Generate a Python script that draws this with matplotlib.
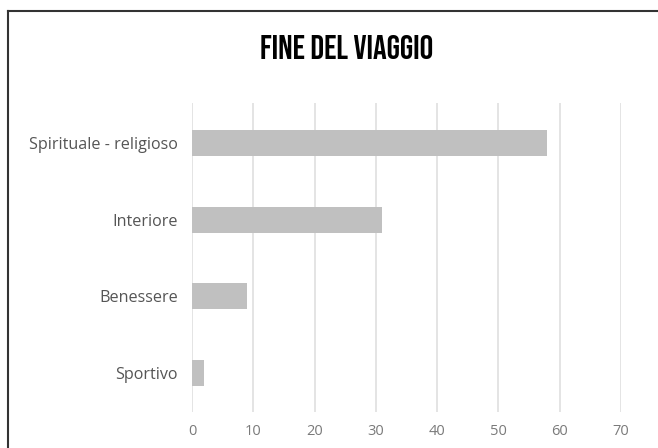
import matplotlib
matplotlib.use("Agg")
import matplotlib.pyplot as plt
from matplotlib.lines import Line2D

categories = ["Sportivo", "Benessere", "Interiore", "Spirituale - religioso"]
values = [2, 9, 31, 58]
xticks = [0, 10, 20, 30, 40, 50, 60, 70]
title = "FINE DEL VIAGGIO"

plt.rcParams["font.family"] = ["Open Sans", "DejaVu Sans"]

fig = plt.figure(figsize=(6.58, 4.48), dpi=100)
ax = fig.add_axes([0.2918, 0.0804, 0.652, 0.6896])

pos = list(range(len(categories)))
ax.barh(pos, values, height=0.34, color="#c0c0c0", zorder=3)

ax.set_xlim(0, 70)
ax.set_ylim(-0.51, 3.52)
ax.set_xticks(xticks)
ax.set_yticks(pos)
ax.set_yticklabels(categories)
ax.grid(axis="x", color="#e4e4e4", linewidth=1.4, zorder=0)
ax.tick_params(axis="x", length=0, pad=9, labelsize=10.5, labelcolor="#7a7a7a")
ax.tick_params(axis="y", length=0, pad=10, labelsize=11.6, labelcolor="#555555")
for s in ax.spines.values():
    s.set_visible(False)

fig.text(0.527, 0.896, title, ha="center", va="center", fontsize=24.5,
         family=["Bebas Neue", "Oswald", "DejaVu Sans"])

# frame of the screenshot (left and top edges only)
fig.add_artist(Line2D([0.0122, 0.0122], [0.9754, 0.0], color="#333333", linewidth=1.5))
fig.add_artist(Line2D([0.0122, 1.0], [0.9754, 0.9754], color="#333333", linewidth=1.5))

fig.savefig("out.png", dpi=100)
